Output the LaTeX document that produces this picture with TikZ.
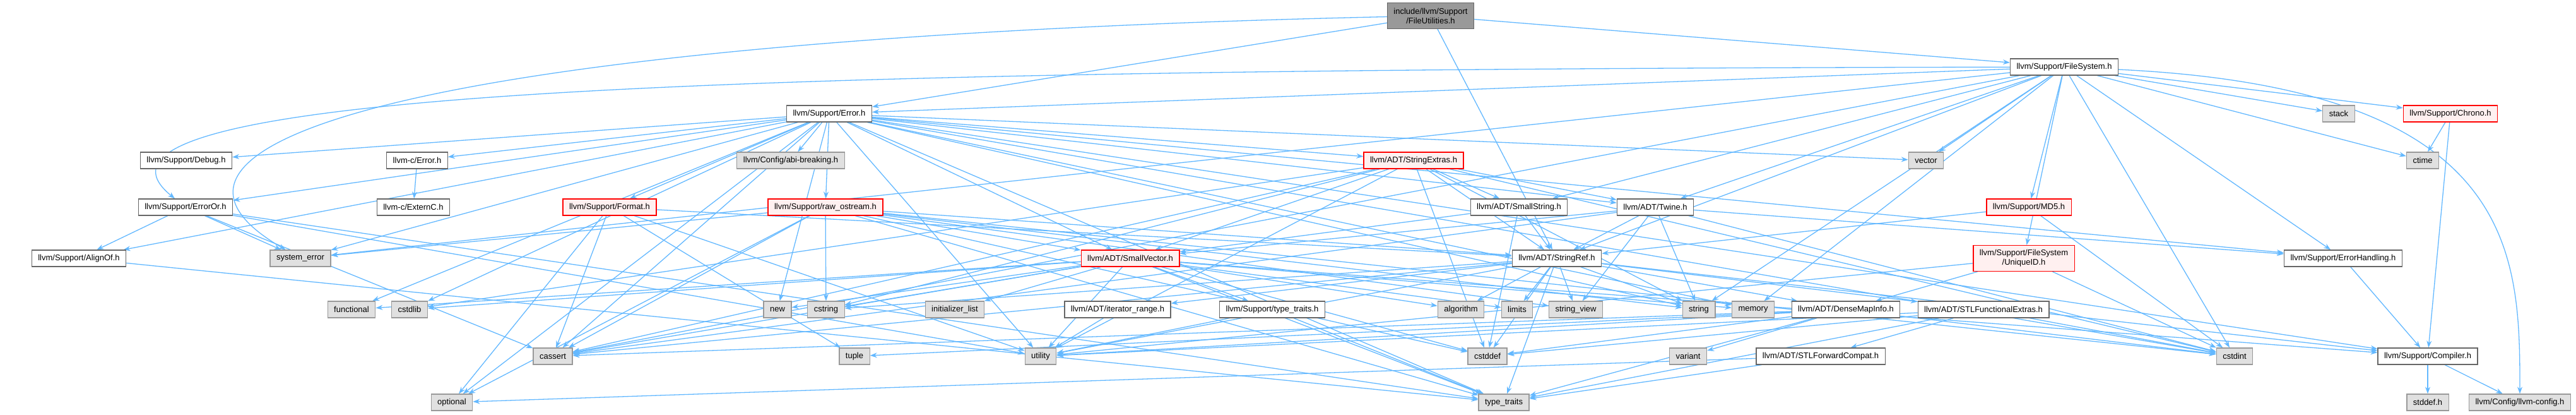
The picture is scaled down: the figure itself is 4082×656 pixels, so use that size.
\documentclass[tikz,border=0pt]{standalone}
\usepackage{fontspec}
\setmainfont{Liberation Sans}
\usepackage{xcolor}
\usepackage{tikz}
\usetikzlibrary{positioning, arrows.meta, backgrounds}
\definecolor{edgeblue}{HTML}{63B8FF}
\definecolor{boxgray}{HTML}{666666}
\definecolor{sysfill}{HTML}{E0E0E0}
\definecolor{sysline}{HTML}{999999}
\definecolor{redfill}{HTML}{FFF0F0}
\definecolor{rootfill}{HTML}{999999}

\tikzset{
  hbox/.style={draw=boxgray, fill=white, line width=1.2pt, inner xsep=10pt, inner ysep=0pt,
               minimum height=26pt, font=\fontsize{13}{15}\selectfont},
  sysh/.style={hbox, draw=sysline, fill=sysfill},
  redh/.style={hbox, draw=red, fill=redfill},
  rooth/.style={hbox, fill=rootfill, minimum height=41pt, align=center},
  incl/.style={draw=edgeblue, line width=1.3pt, -{Stealth[length=11pt, width=8pt]}},
}

\begin{document}
\begin{tikzpicture}[x=1pt, y=-1pt]
  \useasboundingbox (0,0) rectangle (4082,656);

  % headers
  \node[rooth] (root) at (2267,25) {include/llvm/Support\\/FileUtilities.h};
  \node[hbox] (fs) at (3271,106) {llvm/Support/FileSystem.h};
  \node[hbox] (err) at (1314,180) {llvm/Support/Error.h};
  \node[sysh] (stack) at (3706,180) {stack};
  \node[redh] (chrono) at (3883,180) {llvm/Support/Chrono.h};
  \node[hbox] (debug) at (295,254) {llvm/Support/Debug.h};
  \node[hbox] (cerr) at (661,254) {llvm-c/Error.h};
  \node[sysh] (abi) at (1253,254) {llvm/Config/abi-breaking.h};
  \node[redh] (strextras) at (2240,254) {llvm/ADT/StringExtras.h};
  \node[sysh] (vector) at (3052,254) {vector};
  \node[sysh] (ctime) at (3839,254) {ctime};
  \node[hbox] (erroror) at (294,328) {llvm/Support/ErrorOr.h};
  \node[hbox] (externc) at (655,328) {llvm-c/ExternC.h};
  \node[redh] (format) at (966,328) {llvm/Support/Format.h};
  \node[redh] (rawos) at (1308,328) {llvm/Support/raw\_ostream.h};
  \node[hbox] (smallstr) at (2407,328) {llvm/ADT/SmallString.h};
  \node[hbox] (twine) at (2623,328) {llvm/ADT/Twine.h};
  \node[redh] (md5) at (3215,328) {llvm/Support/MD5.h};
  \node[hbox] (alignof) at (125,409) {llvm/Support/AlignOf.h};
  \node[sysh] (syserr) at (476,409) {system\_error};
  \node[redh] (smallvec) at (1791,409) {llvm/ADT/SmallVector.h};
  \node[hbox] (strref) at (2467,409) {llvm/ADT/StringRef.h};
  \node[redh, minimum height=41pt, align=center] (uniqueid) at (3207,409) {llvm/Support/FileSystem\\/UniqueID.h};
  \node[hbox] (errhand) at (3713,409) {llvm/Support/ErrorHandling.h};
  \node[sysh] (functional) at (557,490) {functional};
  \node[sysh] (cstdlib) at (649,490) {cstdlib};
  \node[sysh] (new) at (1232,490) {new};
  \node[sysh] (cstring) at (1309,490) {cstring};
  \node[sysh] (initlist) at (1513,490) {initializer\_list};
  \node[hbox] (iterrange) at (1771,490) {llvm/ADT/iterator\_range.h};
  \node[hbox] (suptt) at (2016,490) {llvm/Support/type\_traits.h};
  \node[sysh] (algorithm) at (2315,490) {algorithm};
  \node[sysh] (limits) at (2404,490) {limits};
  \node[sysh] (strview) at (2497,490) {string\_view};
  \node[sysh] (string) at (2692,490) {string};
  \node[sysh] (memory) at (2778,490) {memory};
  \node[hbox] (densemap) at (2925,490) {llvm/ADT/DenseMapInfo.h};
  \node[hbox] (stlfunc) at (3143,490) {llvm/ADT/STLFunctionalExtras.h};
  \node[sysh] (cassert) at (876,564) {cassert};
  \node[sysh] (tuple) at (1354,564) {tuple};
  \node[sysh] (utility) at (1649,564) {utility};
  \node[sysh] (cstddef) at (2357,564) {cstddef};
  \node[sysh] (variant) at (2675,564) {variant};
  \node[hbox] (stlfwd) at (2885,564) {llvm/ADT/STLForwardCompat.h};
  \node[sysh] (cstdint) at (3541,564) {cstdint};
  \node[hbox] (compiler) at (3847,564) {llvm/Support/Compiler.h};
  \node[sysh] (optional) at (716,637) {optional};
  \node[sysh] (typetraits) at (2383,637) {type\_traits};
  \node[sysh] (stddef) at (3847,637) {stddef.h};
  \node[sysh] (llvmconfig) at (3993,637) {llvm/Config/llvm-config.h};

  % includes
  \begin{scope}[on background layer]
    \foreach \a/\b in {root/err, root/fs, root/strref,
        fs/err, fs/syserr, fs/smallstr, fs/strref, fs/twine, fs/chrono, fs/errhand,
        fs/uniqueid, fs/md5, fs/cassert, fs/cstdint, fs/ctime, fs/memory, fs/stack, fs/string, fs/vector,
        err/cerr, err/twine, err/abi, err/alignof, err/compiler, err/debug, err/errhand, err/erroror,
        err/format, err/rawos, err/strextras, err/smallvec, err/cassert, err/cstdint, err/cstdlib,
        err/functional, err/memory, err/new, err/optional, err/string, err/syserr, err/typetraits,
        err/utility, err/vector,
        cerr/externc,
        erroror/alignof, erroror/cassert, erroror/syserr, erroror/typetraits, erroror/utility,
        alignof/typetraits,
        format/strref, format/cassert, format/optional, format/tuple, format/utility,
        rawos/strref, rawos/smallvec, rawos/cassert, rawos/cstddef, rawos/cstdint, rawos/cstring,
        rawos/optional, rawos/string, rawos/strview, rawos/syserr, rawos/typetraits,
        strextras/smallstr, strextras/strref, strextras/twine, strextras/smallvec, strextras/cassert,
        strextras/cstddef, strextras/cstdint, strextras/cstdlib, strextras/cstring, strextras/string,
        strextras/utility,
        smallstr/smallvec, smallstr/strref, smallstr/cstddef,
        twine/smallvec, twine/strref, twine/errhand, twine/cassert, twine/cstdint, twine/string, twine/strview,
        md5/strref, md5/cstdint,
        chrono/compiler, chrono/ctime,
        uniqueid/densemap, uniqueid/cstdint, uniqueid/utility,
        errhand/compiler,
        smallvec/compiler, smallvec/suptt, smallvec/algorithm, smallvec/cassert, smallvec/cstddef,
        smallvec/cstdlib, smallvec/cstring, smallvec/functional, smallvec/initlist, smallvec/limits,
        smallvec/memory, smallvec/new, smallvec/typetraits, smallvec/utility,
        strref/densemap, strref/stlfunc, strref/iterrange, strref/compiler, strref/algorithm,
        strref/cassert, strref/cstddef, strref/cstring, strref/limits, strref/string, strref/strview,
        strref/typetraits, strref/utility,
        iterrange/utility, suptt/typetraits, suptt/utility,
        densemap/cassert, densemap/cstddef, densemap/cstdint, densemap/tuple, densemap/typetraits,
        densemap/utility, densemap/variant,
        stlfunc/stlfwd, stlfunc/cstddef, stlfunc/cstdint, stlfunc/typetraits, stlfunc/utility,
        stlfwd/optional, stlfwd/typetraits,
        compiler/llvmconfig, compiler/stddef}
      \draw[incl] (\a) -- (\b);
    % the long ones
    \draw[incl] (root) .. controls (700,60) and (150,220) .. (syserr);
    \draw[incl] (fs) .. controls (1200,110) and (60,140) .. (erroror);
    \draw[incl] (fs) .. controls (3990,140) and (3993,400) .. (llvmconfig);
  \end{scope}
\end{tikzpicture}
\end{document}
